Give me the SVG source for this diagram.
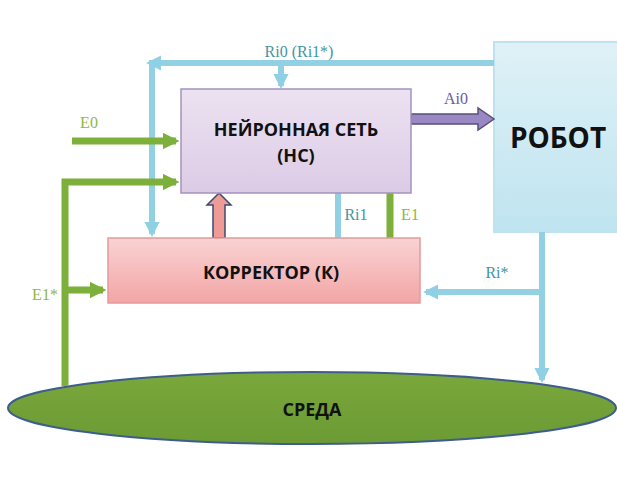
<svg xmlns="http://www.w3.org/2000/svg" width="617" height="499" viewBox="0 0 617 499">
<defs>
<linearGradient id="gNN" x1="0" y1="0" x2="0" y2="1"><stop offset="0" stop-color="#ece2f1"/><stop offset="1" stop-color="#dccbe6"/></linearGradient>
<linearGradient id="gK" x1="0" y1="0" x2="0" y2="1"><stop offset="0" stop-color="#f9d3d3"/><stop offset="1" stop-color="#f3a5a6"/></linearGradient>
<linearGradient id="gR" x1="0" y1="0" x2="0" y2="1"><stop offset="0" stop-color="#dff1f7"/><stop offset="1" stop-color="#bfe4f0"/></linearGradient>
<linearGradient id="gS" x1="0" y1="0" x2="0" y2="1"><stop offset="0" stop-color="#7aa83c"/><stop offset="1" stop-color="#6c9a34"/></linearGradient>
<marker id="mB" viewBox="0 0 10 10" refX="8" refY="5" markerWidth="2.6" markerHeight="2.6" orient="auto"><path d="M0,0 L10,5 L0,10 z" fill="#8fd0e4"/></marker>
<marker id="mG" viewBox="0 0 10 10" refX="8" refY="5" markerWidth="2.4" markerHeight="2.4" orient="auto"><path d="M0,0 L10,5 L0,10 z" fill="#7cb03a"/></marker>
</defs>
<style>
.lb{fill:none;stroke:#92d0e3;stroke-width:6}
.lg{fill:none;stroke:#7cb03a;stroke-width:7}
.t{font-family:"Open Sans","Liberation Sans",sans-serif;font-weight:bold;fill:#111;text-anchor:middle}
.s{font-family:"Liberation Serif",serif;font-size:16px;text-anchor:middle}
.tb{fill:#3f95a3}
.tg{fill:#8fb83f}
.tp{fill:#6a5a9c}
</style>
<rect width="617" height="499" fill="#ffffff"/>
<g id="sreda">
<ellipse cx="312" cy="408" rx="304" ry="36" fill="url(#gS)" stroke="#3d5e8c" stroke-width="2"/>
<text class="t" x="312" y="416" font-size="18">СРЕДА</text>
</g>
<g id="robot">
<rect x="494" y="42" width="130" height="190" fill="url(#gR)" stroke="#bfe2ee" stroke-width="2"/>
<text class="t" x="558" y="148" font-size="28">РОБОТ</text>
</g>
<g id="connectors">
<path class="lb" d="M494,63 H149" marker-end="url(#mB)"/>
<path class="lb" d="M152,63 V234" marker-end="url(#mB)"/>
<path class="lb" d="M281,63 V86" marker-end="url(#mB)"/>
<path class="lb" d="M338,193 V238"/>
<path class="lb" d="M542,232 V380" marker-end="url(#mB)"/>
<path class="lb" d="M542,292 H426" marker-end="url(#mB)"/>
<path class="lg" d="M72,141 H176" marker-end="url(#mG)"/>
<path class="lg" d="M65,386 V182 H176" marker-end="url(#mG)"/>
<path class="lg" d="M65,290 H103" marker-end="url(#mG)"/>
<path class="lg" d="M390,193 V238"/>
<path d="M411,114 H478 V108 L494,119 L478,130 V124 H411 Z" fill="#9a88c4" stroke="#5b4e7a" stroke-width="1.5"/>
<path d="M213,238 V205 H207 L219,193 L231,205 H225 V238 Z" fill="#ef9a94" stroke="#3d4a73" stroke-width="1.5"/>
</g>
<g id="labels">
<text class="s tb" x="299" y="57">Ri0 (Ri1*)</text>
<text class="s tp" x="456" y="104">Ai0</text>
<text class="s tg" x="89" y="128">E0</text>
<text class="s tb" x="356" y="220">Ri1</text>
<text class="s tg" x="410" y="220">E1</text>
<text class="s tg" x="45" y="300">E1*</text>
<text class="s tb" x="497" y="278">Ri*</text>
</g>
<g id="nn">
<rect x="181" y="89" width="230" height="104" fill="url(#gNN)" stroke="#a592be" stroke-width="1.5"/>
<text class="t" x="296" y="136" font-size="18">НЕЙРОННАЯ СЕТЬ</text>
<text class="t" x="296" y="162" font-size="18">(НС)</text>
</g>
<g id="korrektor">
<rect x="108" y="238" width="312" height="65" fill="url(#gK)" stroke="#e49a9a" stroke-width="1.5"/>
<text class="t" x="271" y="279" font-size="18">КОРРЕКТОР (К)</text>
</g>
</svg>
